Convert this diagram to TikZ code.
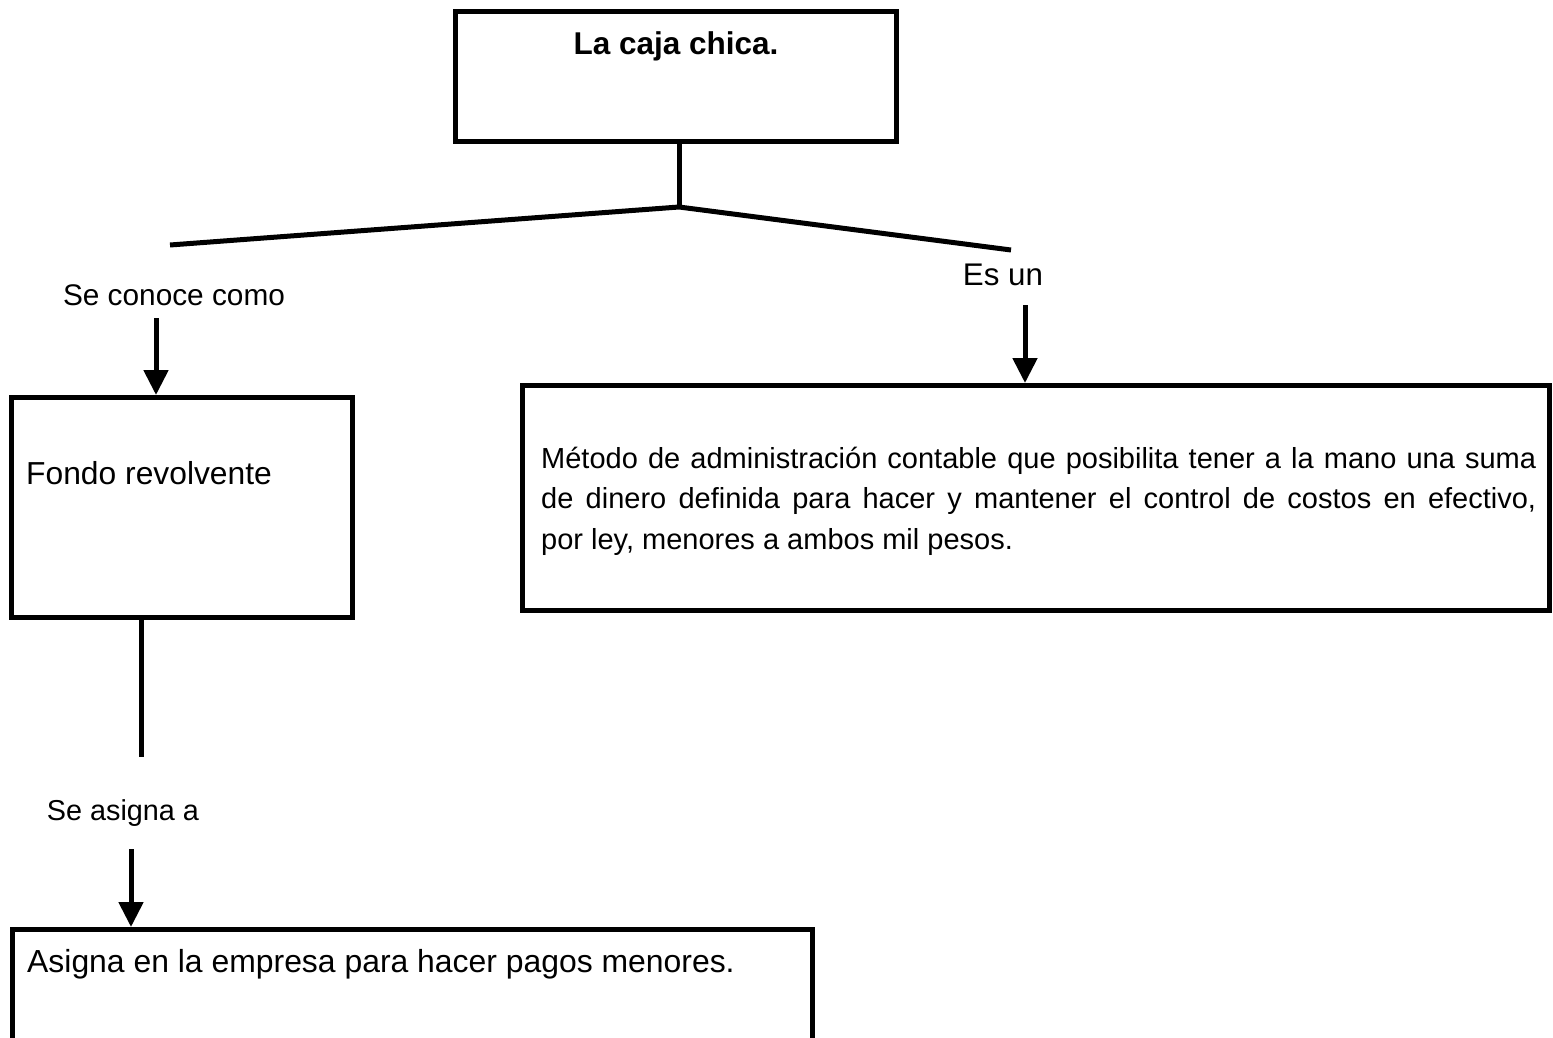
\documentclass[tikz,border=0pt]{standalone}
\usepackage{fontspec}
\setmainfont{Liberation Sans}
\usetikzlibrary{arrows.meta}
\begin{document}
\begin{tikzpicture}[x=1pt,y=-1pt,
  box/.style={draw=black, line width=5pt, rectangle, inner sep=0pt},
  conn/.style={draw=black, line width=5pt},
  arr/.style={conn, -{Triangle[width=24pt,length=25pt]}},
  lbl/.style={inner sep=0pt, anchor=base, text=black},
  lblw/.style={inner sep=0pt, anchor=base west, text=black},
]
\useasboundingbox (0,0) rectangle (1553,1038);
\clip (0,0) rectangle (1553,1038);

% boxes
\node[box, minimum width=440.5pt, minimum height=129.5pt] (top) at (675.75,76.75) {};
\node[box, minimum width=341pt, minimum height=220pt] (fondo) at (182,507.5) {};
\node[box, minimum width=1027pt, minimum height=225pt] (metodo) at (1036,498) {};
\node[box, minimum width=800pt, minimum height=130.5pt] (asigna) at (412.5,994.75) {};

% texts
\node[lbl] (toptxt) at (676,55) {\fontsize{31.5pt}{36pt}\selectfont\bfseries La caja chica.};
\node[lblw] (fondotxt) at (26,484) {\fontsize{31.8pt}{36pt}\selectfont Fondo revolvente};
\node[lblw] (asignatxt) at (27,972) {\fontsize{31.9pt}{36pt}\selectfont Asigna en la empresa para hacer pagos menores.};
\node[lblw] (metodotxt) at (541,468) {\parbox[t]{995pt}{\fontsize{29pt}{40.5pt}\selectfont\tolerance=9999\emergencystretch=20pt
Método de administración contable que posibilita tener a la mano una suma\linebreak
de dinero definida para hacer y mantener el control de costos en efectivo,\linebreak
por ley, menores a ambos mil pesos.}};

% connector labels
\node[lbl] (lconoce) at (174,305) {\fontsize{29.8pt}{34pt}\selectfont Se conoce como};
\node[lbl] (les) at (1003,285) {\fontsize{31.3pt}{36pt}\selectfont Es un};
\node[lbl] (lasigna) at (123,820) {\fontsize{28.8pt}{34pt}\selectfont Se asigna a};

% branch lines
\coordinate (j) at (679,207);
\coordinate (lend) at (170,245);
\coordinate (rend) at (1011,250);
\draw[conn] (j |- top.south) -- (j);
\draw[conn] (lend) -- (j) -- (rend);

% arrows
\coordinate (a1) at (156,318);
\draw[arr] (a1) -- (a1 |- fondo.north);
\coordinate (a2) at (1025,305);
\draw[arr] (a2) -- (a2 |- metodo.north);
\coordinate (l2) at (141,757);
\draw[conn] (l2 |- fondo.south) -- (l2);
\coordinate (a3) at (131,849);
\draw[arr] (a3) -- (a3 |- asigna.north);
\end{tikzpicture}
\end{document}
